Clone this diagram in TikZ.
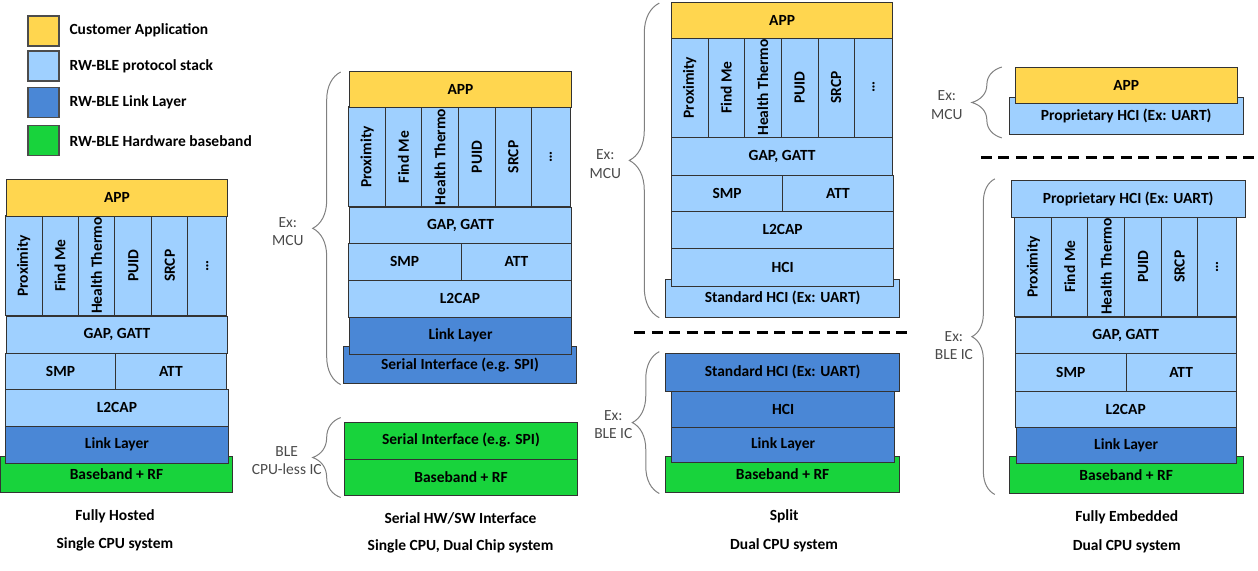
\documentclass[tikz,border=0pt]{standalone}
\usepackage{fontspec}
\setmainfont{Carlito}
\usepackage{tikz}
\usetikzlibrary{decorations.pathreplacing}
\definecolor{appyellow}{HTML}{FFD64F}
\definecolor{protoblue}{HTML}{9FD0FF}
\definecolor{linkblue}{HTML}{4A87D6}
\definecolor{basegreen}{HTML}{18D33C}
\definecolor{sidegray}{HTML}{4A4A4A}

\begin{document}
\begin{tikzpicture}[x=1pt, y=-1pt,
        every node/.style={font=\fontsize{15.5}{18.5}\selectfont},
        layer/.style={draw=black!80, line width=1pt, anchor=north west, inner sep=0pt,
                      font=\fontsize{15.5}{18.5}\selectfont\bfseries},
        app/.style={layer, fill=appyellow},
        proto/.style={layer, fill=protoblue},
        link/.style={layer, fill=linkblue},
        base/.style={layer, fill=basegreen},
        prof/.style={proto, anchor=center, rotate=90, minimum width=100},
        key/.style={draw=black!70, line width=1.5pt, anchor=north west, minimum width=31, minimum height=30},
        brc/.style={decorate, decoration={brace, amplitude=#1pt}, draw=black!50, line width=1pt},
        side/.style={align=center, text=sidegray},
        caption/.style={font=\fontsize{15.5}{18.5}\selectfont\bfseries},
        cut/.style={line width=3pt, dash pattern=on 11pt off 6.5pt}]
        \draw [help lines, opacity=0] (0,0) grid (1258,571);
%        \foreach \x in {0,100,...,1200} \node [font=\small] at (\x,565) {\x};

        % legend
        \node [key, fill=appyellow] (keyapp) at (27,15) {};
        \node [key, fill=protoblue] (keyproto) at (27,50) {};
        \node [key, fill=linkblue] (keylink) at (27,87) {};
        \node [key, fill=basegreen] (keybase) at (27,125) {};
        \node [right, caption] (keyapptxt) at (66,30) {Customer Application};
        \node [right, caption] (keyprototxt) at (66,66) {RW-BLE protocol stack};
        \node [right, caption] (keylinktxt) at (66,102) {RW-BLE Link Layer};
        \node [right, caption] (keybasetxt) at (66,141) {RW-BLE Hardware baseband};

        % profiles, same columns in all four stacks
        \foreach \s/\xo/\yo in {1/5/266, 2/349/157, 3/672/87.5, 4/1016/267}
          \foreach \c/\xa/\xb/\t in {a/0/37/Proximity, b/37/73/Find Me, c/73/110/Health Thermo,
                                     d/110/147/PUID, e/147/183/SRCP, f/183/222/\ldots}
            \node [prof, minimum height=\xb-\xa] (prof\s\c) at ({\xo+(\xa+\xb)/2},\yo) {\t};

        % fully hosted
        \node [app, minimum width=221, minimum height=37] (app1) at (6,179) {APP};
        \node [proto, minimum width=221, minimum height=37] (gap1) at (6,316) {GAP, GATT};
        \node [proto, minimum width=110, minimum height=36] (smp1) at (5,353) {SMP};
        \node [proto, minimum width=111, minimum height=36] (att1) at (115,353) {ATT};
        \node [proto, minimum width=223, minimum height=37] (ltcap1) at (5,389) {L2CAP};
        \node [base, minimum width=232, minimum height=37] (bb1) at (0,456) {\raisebox{-3pt}{Baseband + RF}};
        \node [link, minimum width=223, minimum height=37] (ll1) at (5,426) {Link Layer};
        \node [caption] (cap1a) at (115,517) {Fully Hosted};
        \node [caption] (cap1b) at (115,545) {Single CPU system};

        % serial hw/sw interface
        \node [app, minimum width=223, minimum height=36] (app2) at (349,71) {APP};
        \node [proto, minimum width=223, minimum height=36] (gap2) at (349,207) {GAP, GATT};
        \node [proto, minimum width=113, minimum height=37] (smp2) at (348,243) {SMP};
        \node [proto, minimum width=111, minimum height=37] (att2) at (461,243) {ATT};
        \node [proto, minimum width=224, minimum height=37] (ltcap2) at (348,280) {L2CAP};
        \node [link, minimum width=234, minimum height=37] (ser2) at (343,346) {\raisebox{-3pt}{Serial Interface (e.g. SPI)}};
        \node [link, minimum width=223, minimum height=37] (ll2) at (349,317) {Link Layer};
        \node [base, minimum width=234, minimum height=37] (serc2) at (344,422) {Serial Interface (e.g. SPI)};
        \node [base, minimum width=234, minimum height=37] (bbc2) at (344,459) {Baseband + RF};
        \draw [brc=28] (341,385) -- (341,72);
        \draw [brc=28] (341,498) -- (341,418);
        \node [side] (mcu2) at (288,232) {Ex:\\MCU};
        \node [side] (cpuless2) at (287,461) {BLE\\CPU-less IC};
        \node [caption] (cap2a) at (461,519) {Serial HW/SW Interface};
        \node [caption] (cap2b) at (461,547) {Single CPU, Dual Chip system};

        % split
        \node [app, minimum width=221, minimum height=36] (app3) at (672,2) {APP};
        \node [proto, minimum width=221, minimum height=38] (gap3) at (672,137) {GAP, GATT};
        \node [proto, minimum width=111, minimum height=36] (smp3) at (672,175) {SMP};
        \node [proto, minimum width=111, minimum height=36] (att3) at (783,175) {ATT};
        \node [proto, minimum width=222, minimum height=37] (ltcap3) at (672,211) {L2CAP};
        \node [proto, minimum width=234, minimum height=38] (shci3) at (666,279) {\raisebox{-3pt}{Standard HCI (Ex: UART)}};
        \node [proto, minimum width=222, minimum height=38] (hci3) at (672,248) {HCI};
        \draw [cut] (635,333) -- (915,333);
        \node [link, minimum width=234, minimum height=38] (shcic3) at (666,353) {Standard HCI (Ex: UART)};
        \node [link, minimum width=223, minimum height=36] (hcic3) at (672,391) {HCI};
        \node [base, minimum width=234, minimum height=37] (bbc3) at (666,456) {\raisebox{-3pt}{Baseband + RF}};
        \node [link, minimum width=223, minimum height=35] (llc3) at (672,427) {Link Layer};
        \draw [brc=30] (660,318) -- (660,3);
        \draw [brc=27] (660,494) -- (660,352);
        \node [side] (mcu3) at (606,164) {Ex:\\MCU};
        \node [side] (bleic3) at (614,425) {Ex:\\BLE IC};
        \node [caption] (cap3a) at (785,517) {Split};
        \node [caption] (cap3b) at (785,546) {Dual CPU system};

        % fully embedded
        \node [proto, minimum width=234, minimum height=37] (phci4) at (1010,97) {\raisebox{-3pt}{Proprietary HCI (Ex: UART)}};
        \node [app, minimum width=222, minimum height=36] (app4) at (1016,67) {APP};
        \draw [cut] (982,158) -- (1258,158);
        \node [proto, minimum width=234, minimum height=37] (phcic4) at (1012,180) {Proprietary HCI (Ex: UART)};
        \node [proto, minimum width=221, minimum height=36] (gap4) at (1016,317) {GAP, GATT};
        \node [proto, minimum width=111, minimum height=38] (smp4) at (1016,353) {SMP};
        \node [proto, minimum width=110, minimum height=38] (att4) at (1127,353) {ATT};
        \node [proto, minimum width=221, minimum height=36] (ltcap4) at (1016,391) {L2CAP};
        \node [base, minimum width=234, minimum height=38] (bb4) at (1010,456) {\raisebox{-3pt}{Baseband + RF}};
        \node [link, minimum width=220, minimum height=36] (ll4) at (1017,427) {Link Layer};
        \draw [brc=30] (1003,138) -- (1003,67);
        \draw [brc=23] (996,495) -- (996,179);
        \node [side] (mcu4) at (948,105) {Ex:\\MCU};
        \node [side] (bleic4) at (955,346) {Ex:\\BLE IC};
        \node [caption] (cap4a) at (1128,518) {Fully Embedded};
        \node [caption] (cap4b) at (1128,547) {Dual CPU system};
      \end{tikzpicture}
\end{document}
